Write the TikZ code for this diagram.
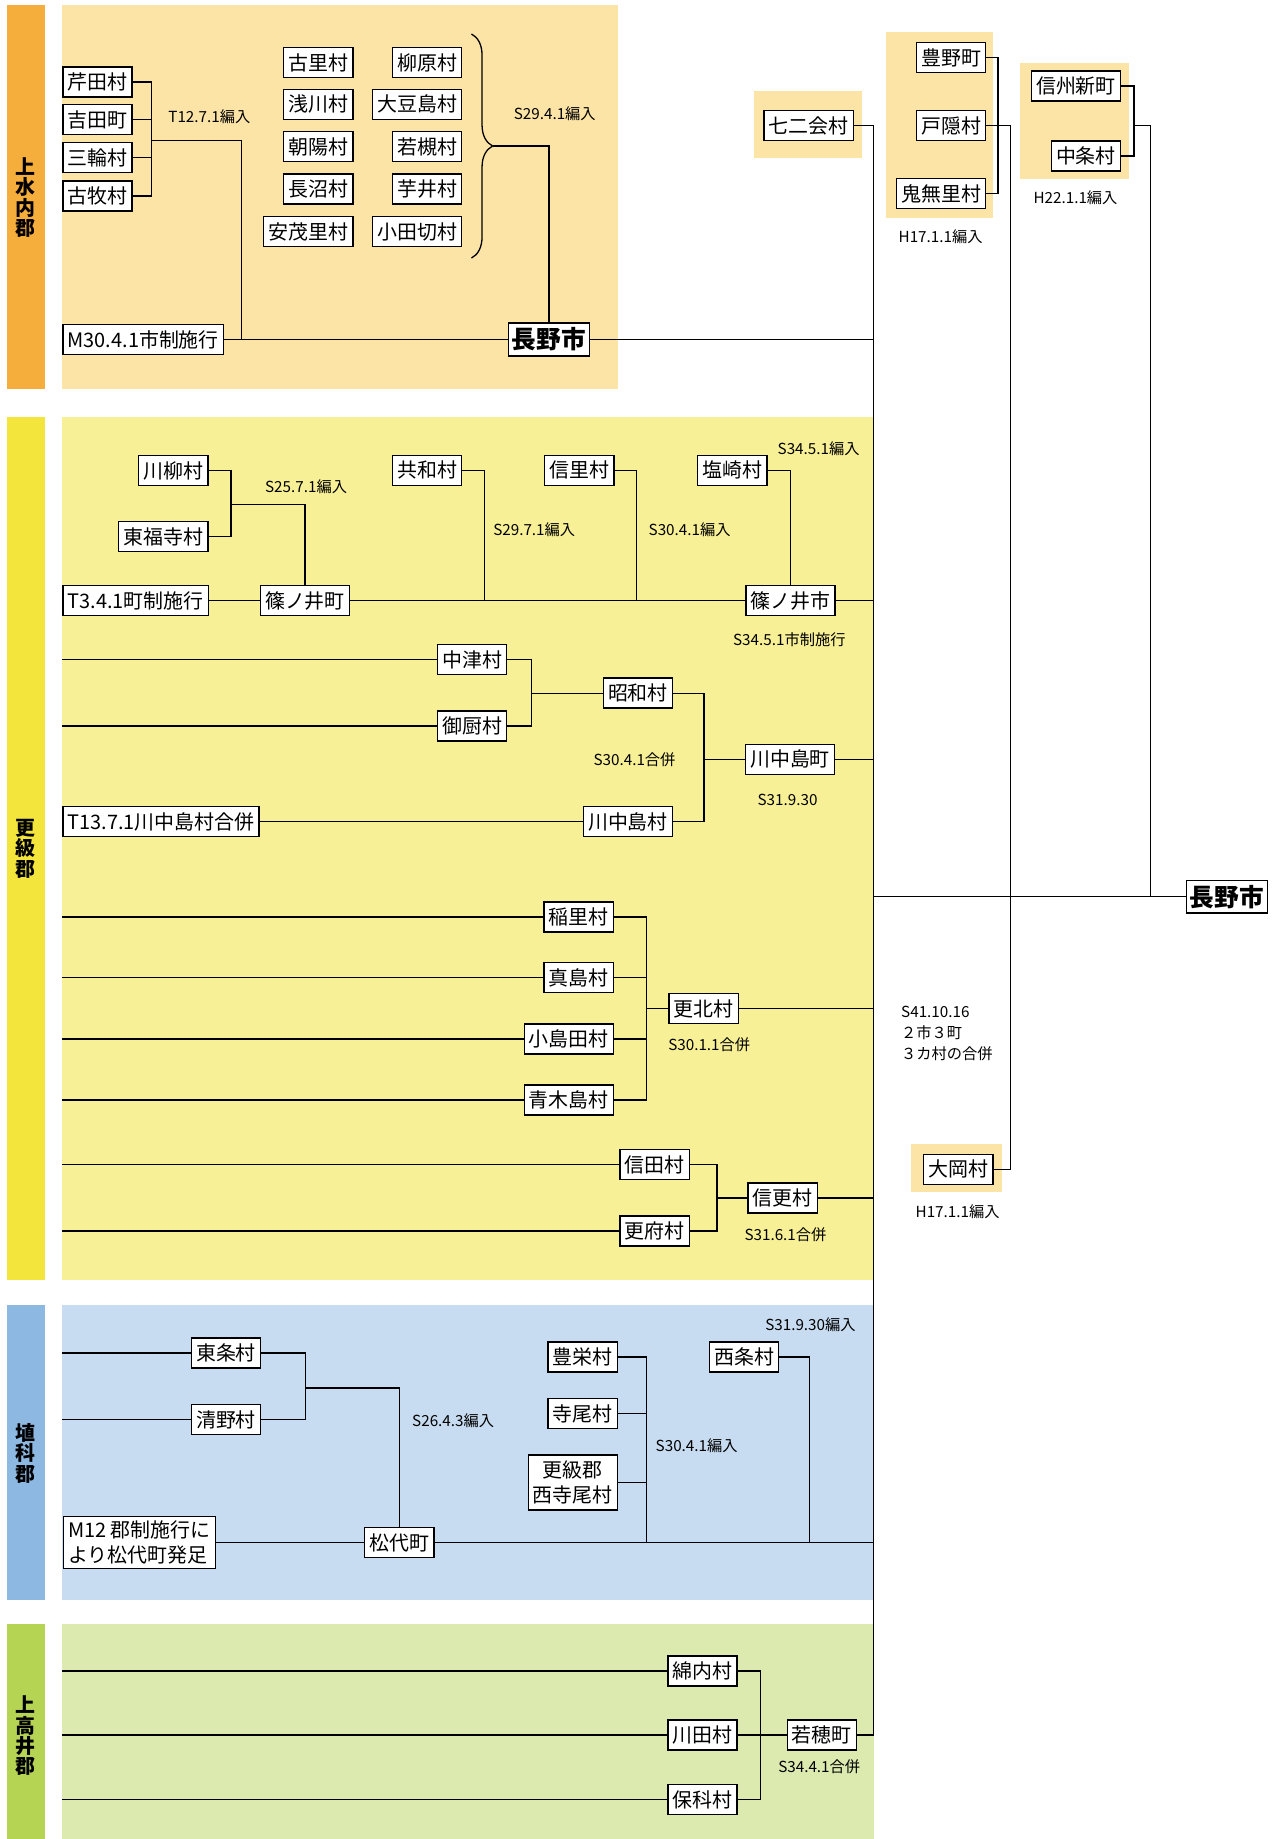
\documentclass[tikz,border=0pt]{standalone}
\usepackage{fontspec}
\setmainfont{Noto Sans CJK JP}
\usetikzlibrary{decorations.pathreplacing}
\definecolor{minochiBar}{HTML}{F5AD3B}
\definecolor{minochiBg}{HTML}{FCE3A6}
\definecolor{sarashinaBar}{HTML}{F3E53B}
\definecolor{sarashinaBg}{HTML}{F8F096}
\definecolor{hanishinaBar}{HTML}{8CB8E2}
\definecolor{hanishinaBg}{HTML}{C8DCF1}
\definecolor{takaiBar}{HTML}{B6D453}
\definecolor{takaiBg}{HTML}{DCE9AF}
\begin{document}
\begin{tikzpicture}[x=0.5pt, y=-0.5pt,
        box/.style={draw, fill=white, line width=0.6pt, inner xsep=2pt,
            inner ysep=0pt, minimum height=12.8pt,
            font=\fontsize{8.5}{10.9}\selectfont},
        city/.style={box, minimum height=14pt, inner xsep=1.5pt,
            font=\fontsize{10.5}{12}\selectfont\bfseries},
        lbl/.style={inner sep=0pt, font=\fontsize{6.5}{9}\selectfont},
        gun/.style={inner sep=0pt, align=center,
            font=\fontsize{8.5}{8.7}\selectfont\bfseries},
        link/.style={line width=0.55pt}]
	\useasboundingbox (0,0) rectangle (1089,1568);
	\fill[minochiBar] (6,4) rectangle (38,332);
	\fill[minochiBg] (53,4) rectangle (527,332);
	\fill[sarashinaBar] (6,355.5) rectangle (38,1091);
	\fill[sarashinaBg] (53,355.5) rectangle (745,1091);
	\fill[hanishinaBar] (6,1113) rectangle (38,1364.5);
	\fill[hanishinaBg] (53,1113) rectangle (745,1364.5);
	\fill[takaiBar] (6,1385) rectangle (38,1568);
	\fill[takaiBg] (53,1385) rectangle (745,1568);
	\fill[minochiBg] (643,78) rectangle (735,135);
	\fill[minochiBg] (755,27) rectangle (847,185.6);
	\fill[minochiBg] (870,53.5) rectangle (963,152.4);
	\fill[minochiBg] (777,975.6) rectangle (854,1016.3);

	\node[gun] (gMinochi) at (22,168.5) {上\\水\\内\\郡};
	\node[gun] (gSarashina) at (22,723.5) {更\\級\\郡};
	\node[gun] (gHanishina) at (22,1239) {埴\\科\\郡};
	\node[gun] (gTakai) at (22,1480) {上\\高\\井\\郡};

	\node[box, anchor=west] (serita) at (53,70) {芹田村};
	\node[box, anchor=west] (yoshida) at (53,102) {吉田町};
	\node[box, anchor=west] (miwa) at (53,134.5) {三輪村};
	\node[box, anchor=west] (komaki) at (53,167) {古牧村};
	\node[box, anchor=east] (furusato) at (301.5,53.5) {古里村};
	\node[box, anchor=east] (asakawa) at (301.5,89) {浅川村};
	\node[box, anchor=east] (asahi) at (301.5,125) {朝陽村};
	\node[box, anchor=east] (naganuma) at (301.5,161) {長沼村};
	\node[box, anchor=east] (amori) at (301.5,197.4) {安茂里村};
	\node[box, anchor=east] (yanagihara) at (394.3,53.5) {柳原村};
	\node[box, anchor=east] (oomameshima) at (394.3,89) {大豆島村};
	\node[box, anchor=east] (wakatsuki) at (394.3,125) {若槻村};
	\node[box, anchor=east] (imoi) at (394.3,161) {芋井村};
	\node[box, anchor=east] (odagiri) at (394.3,197.4) {小田切村};
	\node[box, anchor=west] (shisei) at (53,289.5) {M30.4.1市制施行};
	\node[city] (nagano) at (468,289.5) {長野市};
	\node[lbl] (lbT12) at (178.5,99.5) {T12.7.1編入};
	\node[lbl] (lbS29a) at (473,97) {S29.4.1編入};

	\node[box] (nanakai) at (689.5,107) {七二会村};
	\node[box, anchor=east] (toyono) at (841,49) {豊野町};
	\node[box, anchor=east] (togakushi) at (841,107) {戸隠村};
	\node[box, anchor=east] (kinasa) at (841,165) {鬼無里村};
	\node[box, anchor=east] (shinshu) at (956,73.3) {信州新町};
	\node[box, anchor=east] (nakajo) at (956,133) {中条村};
	\node[lbl] (lbH17a) at (802,201.8) {H17.1.1編入};
	\node[lbl] (lbH22) at (917,168.6) {H22.1.1編入};
	\node[city] (naganoNew) at (1046,764.5) {長野市};
	\node[box] (ooka) at (817,997) {大岡村};
	\node[lbl] (lbH17b) at (816.5,1033.3) {H17.1.1編入};
	\node[lbl, anchor=west, align=left] (lbS41) at (768,881) {S41.10.16\\２市３町\\３カ村の合併};

	\node[box, anchor=east] (kawayanagi) at (177.8,401.4) {川柳村};
	\node[box, anchor=east] (tofukuji) at (177.8,457.4) {東福寺村};
	\node[box, anchor=west] (chosei) at (53,512) {T3.4.1町制施行};
	\node[box] (shinonoiT) at (260,512) {篠ノ井町};
	\node[box, anchor=east] (kyowa) at (394.3,401) {共和村};
	\node[box, anchor=east] (shinri) at (524,401) {信里村};
	\node[box, anchor=east] (shiozaki) at (654.5,401) {塩崎村};
	\node[box] (shinonoiC) at (674,512) {篠ノ井市};
	\node[lbl] (lbS25) at (261,415) {S25.7.1編入};
	\node[lbl] (lbS29b) at (455.5,452) {S29.7.1編入};
	\node[lbl] (lbS30a) at (588,452) {S30.4.1編入};
	\node[lbl] (lbS34a) at (698,383) {S34.5.1編入};
	\node[lbl] (lbS34b) at (673,545.8) {S34.5.1市制施行};

	\node[box, anchor=east] (nakatsu) at (432.6,562.3) {中津村};
	\node[box, anchor=east] (mikuriya) at (432.6,619) {御厨村};
	\node[box, anchor=east] (showa) at (574,591) {昭和村};
	\node[box] (kwnTown) at (673.6,647.5) {川中島町};
	\node[box, anchor=west] (kwnGappei) at (53,700.5) {T13.7.1川中島村合併};
	\node[box, anchor=east] (kwnVil) at (574,700.5) {川中島村};
	\node[lbl] (lbS30b) at (541,647.6) {S30.4.1合併};
	\node[lbl] (lbS31a) at (671.5,681.7) {S31.9.30};

	\node[box, anchor=east] (inasato) at (523.6,781.8) {稲里村};
	\node[box, anchor=east] (majima) at (523.6,833.5) {真島村};
	\node[box, anchor=east] (kojimada) at (523.6,886) {小島田村};
	\node[box, anchor=east] (aokijima) at (523.6,938) {青木島村};
	\node[box] (kohoku) at (600,860) {更北村};
	\node[lbl] (lbS30c) at (604.7,891.2) {S30.1.1合併};
	\node[box, anchor=east] (shinden) at (588.4,993) {信田村};
	\node[box, anchor=east] (sarafu) at (588.4,1049.6) {更府村};
	\node[box] (shinko) at (667.3,1021.5) {信更村};
	\node[lbl] (lbS31b) at (669.7,1052.6) {S31.6.1合併};

	\node[box, anchor=east] (tojo) at (222.8,1153.6) {東条村};
	\node[box, anchor=east] (kiyono) at (222.8,1210.4) {清野村};
	\node[box, anchor=west, align=left, minimum height=22.2pt] (gunsei) at (53.5,1315.3) {M12 郡制施行に\\より松代町発足};
	\node[box] (matsushiro) at (340.5,1315.3) {松代町};
	\node[box, anchor=east] (hoei) at (527,1157) {豊栄村};
	\node[box, anchor=east] (terao) at (527,1205.3) {寺尾村};
	\node[box, anchor=east, align=center, minimum height=23.3pt,
	    font=\fontsize{8.5}{10.3}\selectfont] (nishiterao) at (527,1264) {更級郡\\西寺尾村};
	\node[box, anchor=east] (saijo) at (664.5,1157) {西条村};
	\node[lbl] (lbS26) at (386.4,1211.6) {S26.4.3編入};
	\node[lbl] (lbS30d) at (594,1233) {S30.4.1編入};
	\node[lbl] (lbS31c) at (691,1129.4) {S31.9.30編入};

	\node[box, anchor=east] (watauchi) at (629,1424.8) {綿内村};
	\node[box, anchor=east] (kawada) at (629,1479.4) {川田村};
	\node[box, anchor=east] (hoshina) at (629,1534.5) {保科村};
	\node[box] (wakaho) at (700.7,1479.4) {若穂町};
	\node[lbl] (lbS34c) at (698.5,1506.6) {S34.4.1合併};

	\coordinate (jSerita) at (129,119.5);
	\coordinate (jShisei) at (206,289.5);
	\coordinate (braceTop) at (402,29);
	\coordinate (braceBot) at (402,220);
	\coordinate (braceTip) at (420,124.5);
	\coordinate (trunkTop) at (745,107);
	\coordinate (trunkBot) at (745,1479.4);
	\draw[link] (serita) -| (jSerita) |- (komaki);
	\draw[link] (yoshida.east) -- (yoshida.east -| jSerita);
	\draw[link] (miwa.east) -- (miwa.east -| jSerita);
	\draw[link] (jSerita) -| (jShisei);
	\draw[link] (shisei) -- (nagano);
	\draw[link, decorate, decoration={brace, amplitude=9pt}] (braceTop) -- (braceBot);
	\draw[link] (braceTip) -| (nagano);
	\draw[link] (nanakai) -| (trunkBot) -- (wakaho);
	\draw[link] (nagano) -- (nagano -| trunkTop);

	\coordinate (jToyono) at (851,107);
	\coordinate (jOoka) at (861.5,997);
	\coordinate (jShinshu) at (967,107);
	\coordinate (jNew) at (981,764.5);
	\draw[link] (toyono) -| (jToyono) |- (kinasa);
	\draw[link] (togakushi) -| (jOoka) -- (ooka);
	\draw[link] (shinshu) -| (jShinshu) |- (nakajo);
	\draw[link] (jShinshu) -| (jNew);
	\draw[link] (naganoNew) -- (naganoNew -| trunkTop);

	\coordinate (jKawayanagi) at (197,430.4);
	\coordinate (jKyowa) at (413,512);
	\coordinate (jShinri) at (542.4,512);
	\draw[link] (kawayanagi) -| (jKawayanagi) |- (tofukuji);
	\draw[link] (jKawayanagi) -| (shinonoiT);
	\draw[link] (chosei) -- (shinonoiT);
	\draw[link] (shinonoiT) -- (shinonoiC);
	\draw[link] (kyowa) -| (jKyowa);
	\draw[link] (shinri) -| (jShinri);
	\draw[link] (shiozaki) -| (shinonoiC);
	\draw[link] (shinonoiC) -- (shinonoiC -| trunkTop);

	\coordinate (nakatsuL) at (53,562.3);
	\coordinate (mikuriyaL) at (53,619);
	\coordinate (jNakatsu) at (453,591);
	\coordinate (jShowa) at (600.3,647.5);
	\draw[link] (nakatsuL) -- (nakatsu);
	\draw[link] (mikuriyaL) -- (mikuriya);
	\draw[link] (nakatsu) -| (jNakatsu) |- (mikuriya);
	\draw[link] (jNakatsu) -- (showa);
	\draw[link] (showa) -| (jShowa) |- (kwnVil);
	\draw[link] (jShowa) -- (kwnTown);
	\draw[link] (kwnGappei) -- (kwnVil);
	\draw[link] (kwnTown) -- (kwnTown -| trunkTop);

	\coordinate (inasatoL) at (53,781.8);
	\coordinate (majimaL) at (53,833.5);
	\coordinate (kojimadaL) at (53,886);
	\coordinate (aokijimaL) at (53,938);
	\coordinate (jInasato) at (551.5,860);
	\draw[link] (inasatoL) -- (inasato);
	\draw[link] (majimaL) -- (majima);
	\draw[link] (kojimadaL) -- (kojimada);
	\draw[link] (aokijimaL) -- (aokijima);
	\draw[link] (inasato) -| (jInasato) |- (aokijima);
	\draw[link] (majima.east) -- (majima.east -| jInasato);
	\draw[link] (kojimada.east) -- (kojimada.east -| jInasato);
	\draw[link] (jInasato) -- (kohoku);
	\draw[link] (kohoku) -- (kohoku -| trunkTop);

	\coordinate (shindenL) at (53,993);
	\coordinate (sarafuL) at (53,1049.6);
	\coordinate (jShinden) at (611.3,1021.5);
	\draw[link] (shindenL) -- (shinden);
	\draw[link] (sarafuL) -- (sarafu);
	\draw[link] (shinden) -| (jShinden) |- (sarafu);
	\draw[link] (jShinden) -- (shinko);
	\draw[link] (shinko) -- (shinko -| trunkTop);

	\coordinate (tojoL) at (53,1153.6);
	\coordinate (kiyonoL) at (53,1210.4);
	\coordinate (jTojo) at (260.6,1183.4);
	\coordinate (jHoei) at (551,1315.3);
	\coordinate (jSaijo) at (690.4,1315.3);
	\draw[link] (tojoL) -- (tojo);
	\draw[link] (kiyonoL) -- (kiyono);
	\draw[link] (tojo) -| (jTojo) |- (kiyono);
	\draw[link] (jTojo) -| (matsushiro);
	\draw[link] (gunsei) -- (matsushiro);
	\draw[link] (hoei) -| (jHoei);
	\draw[link] (terao.east) -- (terao.east -| jHoei);
	\draw[link] (nishiterao.east) -- (nishiterao.east -| jHoei);
	\draw[link] (saijo) -| (jSaijo);
	\draw[link] (matsushiro) -- (matsushiro -| trunkTop);

	\coordinate (watauchiL) at (53,1424.8);
	\coordinate (kawadaL) at (53,1479.4);
	\coordinate (hoshinaL) at (53,1534.5);
	\coordinate (jWatauchi) at (648.2,1479.4);
	\draw[link] (watauchiL) -- (watauchi);
	\draw[link] (kawadaL) -- (kawada);
	\draw[link] (hoshinaL) -- (hoshina);
	\draw[link] (watauchi) -| (jWatauchi) |- (hoshina);
	\draw[link] (kawada) -- (wakaho);
\end{tikzpicture}
\end{document}
